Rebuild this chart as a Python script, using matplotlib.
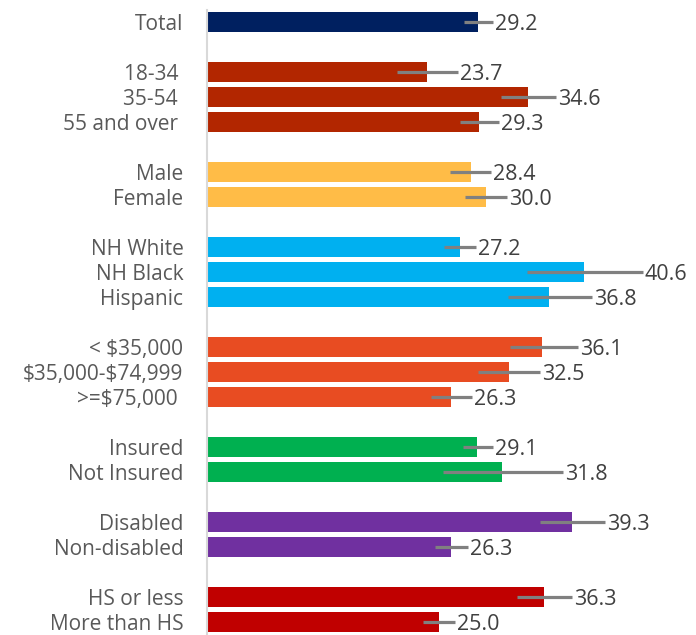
import matplotlib
matplotlib.use("Agg")
import matplotlib.pyplot as plt

# categories (top to bottom), blank entries are the gaps between groups
labels = ["Total", "",
          "18-34 ", "35-54 ", "55 and over ", "",
          "Male", "Female", "",
          "NH White", "NH Black", "Hispanic", "",
          "< \\$35,000", "\\$35,000-\\$74,999", ">=\\$75,000 ", "",
          "Insured", "Not Insured", "",
          "Disabled", "Non-disabled", "",
          "HS or less", "More than HS"]
values = [29.2, None,
          23.7, 34.6, 29.3, None,
          28.4, 30.0, None,
          27.2, 40.6, 36.8, None,
          36.1, 32.5, 26.3, None,
          29.1, 31.8, None,
          39.3, 26.3, None,
          36.3, 25.0]
err_low = [27.7, None,
           20.5, 31.7, 27.2, None,
           26.2, 27.8, None,
           25.5, 34.4, 32.4, None,
           32.6, 29.2, 24.1, None,
           27.6, 25.4, None,
           35.8, 24.6, None,
           33.4, 23.3]
err_high = [30.8, None,
            27.0, 37.6, 31.4, None,
            30.6, 32.3, None,
            29.0, 46.9, 41.4, None,
            39.9, 35.9, 28.5, None,
            30.8, 38.3, None,
            42.9, 28.1, None,
            39.3, 26.7]
colors = ["#002060", None,
          "#B22600", "#B22600", "#B22600", None,
          "#FFBC47", "#FFBC47", None,
          "#00B0F0", "#00B0F0", "#00B0F0", None,
          "#E84C22", "#E84C22", "#E84C22", None,
          "#00B050", "#00B050", None,
          "#7030A0", "#7030A0", None,
          "#C00000", "#C00000"]

fig = plt.figure(figsize=(6.96, 6.35), dpi=100)
ax = fig.add_axes([207 / 696, 0, 483 / 696, 625 / 635])

for i, v in enumerate(values):
    if v is None:
        continue
    ax.barh(i, v, height=0.8, color=colors[i], zorder=1)
    ax.plot([err_low[i], err_high[i]], [i, i], color="#808080", lw=2.3,
            solid_capstyle="butt", zorder=2)
    ax.annotate(f"{v:.1f}", (err_high[i], i), xytext=(1.5, -1.5),
                textcoords="offset points", va="center", ha="left",
                fontsize=15.5, color="#404040", family="Open Sans")

ax.set_xlim(0, 52)
ax.set_ylim(24.52, -0.48)
ax.set_yticks(range(len(labels)))
ax.set_yticklabels(labels, fontsize=15, color="#595959", family="Open Sans")
ax.tick_params(axis="y", length=0, pad=17)
ax.set_xticks([])
for s in ["top", "right", "bottom"]:
    ax.spines[s].set_visible(False)
ax.spines["left"].set_color("#D9D9D9")
ax.spines["left"].set_linewidth(1.5)

fig.savefig("out.png", dpi=100)
